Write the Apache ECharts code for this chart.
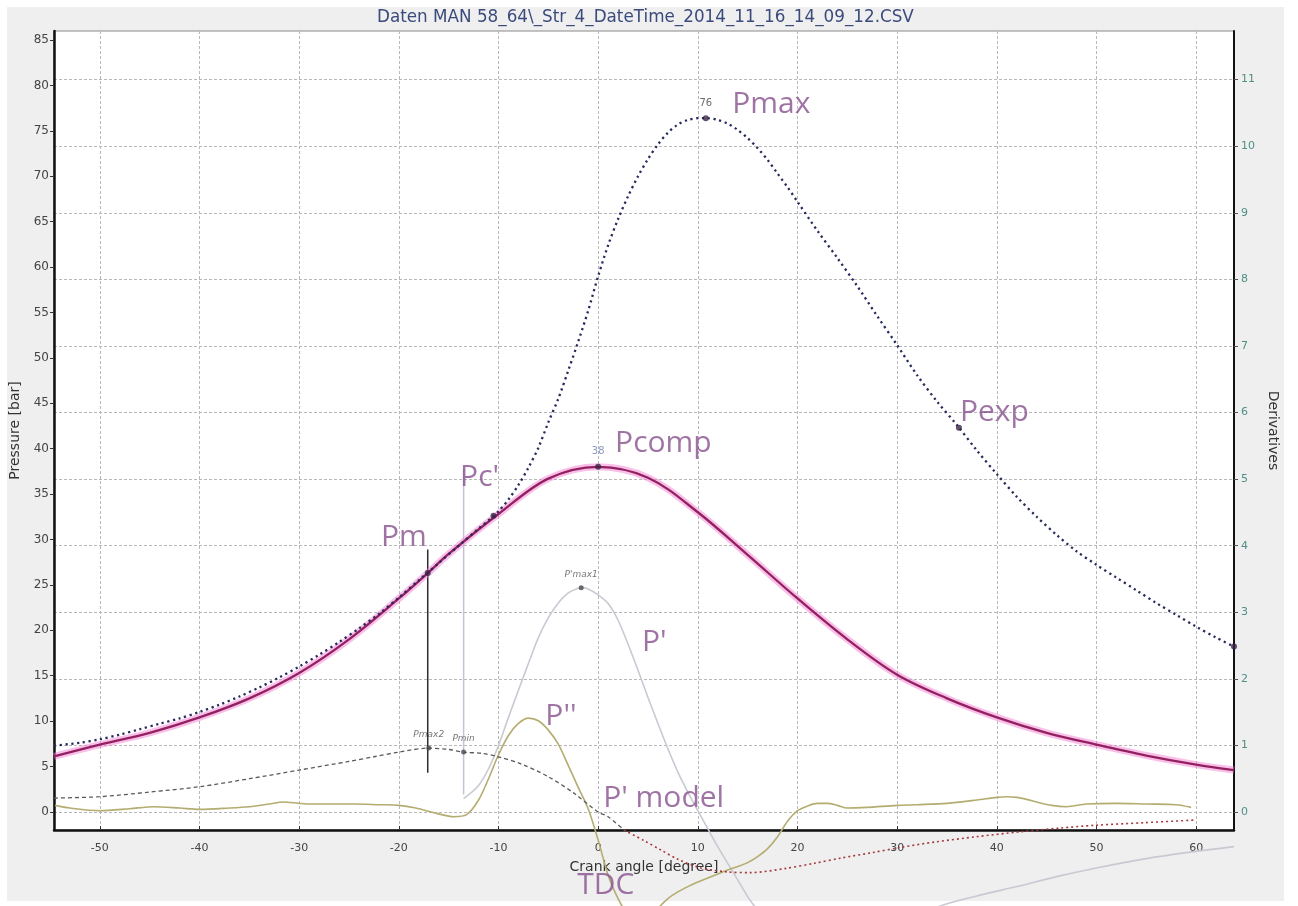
<!DOCTYPE html>
<html>
<head>
<meta charset="utf-8">
<script src="https://cdn.jsdelivr.net/npm/echarts@6/dist/echarts.min.js"></script>
<style>
  html, body { margin: 0; padding: 0; background: #ffffff; }
  #chart { width: 1298px; height: 906px; }
</style>
</head>
<body>
<div id="chart"></div>
<script>
// ---- crank angle [degree] / pressure [bar] ----
const firedPressure = [
  [-54.6,7.3],[-52,7.6],[-50,8.0],[-48,8.5],[-46,9.1],[-44,9.7],[-42,10.3],[-40,11.0],[-38,11.8],[-36,12.7],
  [-34,13.7],[-32,14.8],[-30,16.0],[-28,17.3],[-26,18.7],[-24,20.2],[-22,21.8],[-20,23.6],[-18,25.5],[-16,27.4],
  [-14,29.3],[-12,31.2],[-11,32.1],[-10,33.1],[-9,34.4],[-8,36.0],[-7,37.9],[-6,40.1],[-5,42.9],[-4,45.5],
  [-3,48.6],[-2,51.8],[-1,55.2],[0,59.0],[1,62.4],[2,65.3],[3,67.8],[4,70.0],[5,71.9],[6,73.5],
  [7,74.8],[8,75.7],[9,76.2],[10,76.4],[11,76.4],[12,76.2],[13,75.8],[14,75.1],[15,74.2],[16,73.1],
  [17,71.8],[18,70.3],[19,68.8],[20,67.2],[22,64.0],[24,61.0],[26,57.9],[28,54.6],[30,51.4],[32,48.1],
  [34,45.2],[36,42.6],[38,39.8],[40,37.2],[42,34.7],[44,32.5],[46,30.5],[48,28.7],[50,27.2],[52,25.8],
  [54,24.4],[56,23.0],[58,21.7],[60,20.4],[62,19.2],[63.8,18.2]
];
const compressionPressure = [
  [-54.6,6.1],[-50,7.4],[-45,8.7],[-40,10.4],[-35,12.5],[-30,15.3],[-25,19.0],[-20,23.5],[-17.1,26.3],[-15,28.4],
  [-10,32.8],[-5,36.7],[0,38.0],[5,36.8],[10,33.0],[15,28.3],[20,23.5],[25,19.0],[30,15.1],[35,12.5],
  [40,10.4],[45,8.7],[50,7.4],[55,6.2],[60,5.2],[63.8,4.6]
];

// ---- derivatives ----
const firstDerivative = [
  [-13.5,0.2],[-12,0.4],[-11,0.65],[-10,1.0],[-9,1.42],[-8,1.83],[-7,2.23],[-6,2.62],[-5,2.92],[-4,3.14],
  [-3,3.29],[-2,3.36],[-1.7,3.37],[-1,3.35],[0,3.26],[1,3.13],[2,2.88],[3,2.52],[4,2.13],[5,1.72],
  [6,1.33],[7,0.95],[8,0.6],[9,0.3],[10,0.02],[11,-0.25],[12,-0.52],[13,-0.77],[14,-1.02],[15,-1.27],
  [16,-1.47],[18,-1.76],[20,-1.94],[23,-2.04],[26,-2.0],[30,-1.78],[34,-1.43],[38,-1.26],[42,-1.12],[46,-0.97],
  [50,-0.84],[55,-0.7],[59,-0.61],[63.8,-0.52]
];
const secondDerivative = [
  [-54.5,0.1],[-53,0.06],[-50,0.02],[-47,0.05],[-44.6,0.08],[-42,0.06],[-40,0.04],[-37,0.06],[-35,0.08],[-33,0.12],
  [-31.6,0.15],[-30,0.13],[-28.7,0.12],[-26,0.12],[-24.5,0.12],[-22,0.11],[-20,0.1],[-18.3,0.06],[-16.2,-0.02],[-14.5,-0.07],
  [-13.2,-0.04],[-12,0.18],[-11,0.5],[-10,0.86],[-9,1.15],[-8,1.33],[-7,1.41],[-6,1.37],[-5,1.23],[-4,1.02],
  [-3,0.7],[-2,0.37],[-1,0.05],[0,-0.42],[1,-0.95],[2,-1.3],[3,-1.55],[4,-1.7],[5,-1.65],[6,-1.45],
  [7,-1.3],[8,-1.2],[9,-1.12],[10,-1.05],[11,-0.99],[12,-0.93],[13,-0.87],[14,-0.82],[15,-0.76],[16,-0.67],
  [17,-0.55],[18,-0.37],[19,-0.14],[20,0.02],[21,0.09],[22,0.13],[23,0.13],[24,0.1],[25,0.06],[27,0.07],
  [30,0.1],[32,0.11],[35,0.13],[38,0.18],[40,0.22],[41,0.23],[42,0.22],[43,0.19],[44,0.15],[45.5,0.1],
  [47,0.08],[49,0.12],[52,0.13],[55,0.12],[58,0.11],[59.5,0.07]
];
const modelDerivative = [
  [-54.6,0.21],[-50,0.23],[-45,0.3],[-40,0.38],[-35,0.5],[-30,0.63],[-25,0.76],[-22.5,0.83],[-20,0.9],[-17,0.96],
  [-15,0.94],[-13.5,0.9],[-11.6,0.88],[-10,0.83],[-7.7,0.72],[-5,0.53],[-2.4,0.28],[0,0.0],[1,-0.07],[2.6,-0.27],
  [4.6,-0.43],[6.3,-0.57],[8,-0.71],[10.3,-0.84],[13,-0.9],[15.3,-0.91],[18.7,-0.85],[21.7,-0.77],[24.4,-0.69],[27.5,-0.61],
  [30.4,-0.53],[33.8,-0.45],[38,-0.37],[42.2,-0.3],[46.4,-0.24],[49.8,-0.2],[54.8,-0.16],[60,-0.12]
];
const modelSplitAngle = 2.6;

// ---- evaluated points: [name, crank angle, value] ----
const pressurePoints = [
  ['Pmax', 10.8, 76.4], ['Pcomp', 0, 38.0], ['Pexp', 36.2, 42.3],
  ["Pc'", -10.5, 32.6], ['Pm', -17.1, 26.3], ['end', 63.8, 18.2]
];
const valueLabelled = ['Pmax', 'Pcomp'];
const derivativePoints = [
  ["P'max1", -1.7, 3.37], ['Pmax2', -17, 0.96], ['Pmin', -13.5, 0.9]
];

// cursor lines: [crank angle, lower bar, upper bar]
const cursorPm = [-17.1, 4.3, 28.9];
const cursorPmin = [-13.5, 1.9, 37.7];

// curve names: [text, angle at text start, axis value at text middle]
const pressureNotes = [
  ['Pmax', 13.45, 77.9], ['Pcomp', 1.7, 40.6], ['Pexp', 36.3, 44.0],
  ["Pc'", -13.85, 36.8], ['Pm', -21.8, 30.2]
];
const derivativeNotes = [
  ["P'", 4.4, 2.54], ["P''", -5.3, 1.43], ["P' model", 0.5, 0.21], ['TDC', -2.1, -1.11]
];

// ---- axis ticks ----
const angleTicks = [-50, -40, -30, -20, -10, 0, 10, 20, 30, 40, 50, 60];
const pressureTicks = [0, 5, 10, 15, 20, 25, 30, 35, 40, 45, 50, 55, 60, 65, 70, 75, 80, 85];
const derivativeTicks = [0, 1, 2, 3, 4, 5, 6, 7, 8, 9, 10, 11];

const chart = echarts.init(document.getElementById('chart'), null, { renderer: 'canvas' });

const noteColor = '#87518f';
const gridLine = { show: true, lineStyle: { color: '#b8b8b8', width: 1, type: [3, 2] } };
const axisFont = 'DejaVu Sans';

function noteSeries(list, axisIndex) {
  return {
    type: 'scatter', yAxisIndex: axisIndex, clip: false, silent: true, z: 20,
    symbolSize: 0,
    data: list.map(n => ({ name: n[0], value: [n[1], n[2]] })),
    label: {
      show: true, position: [0, 0], align: 'left', verticalAlign: 'middle',
      formatter: p => p.name,
      fontFamily: 'Open Sans', fontSize: 30, color: noteColor
    }
  };
}

const option = {
  animation: false,
  backgroundColor: '#ffffff',
  graphic: [{
    type: 'rect', z: -100, silent: true,
    shape: { x: 7, y: 7, width: 1277, height: 894 },
    style: { fill: '#efefef' }
  }],
  title: {
    text: 'Daten MAN 58_64\\_Str_4_DateTime_2014_11_16_14_09_12.CSV',
    left: 372, top: 4,
    textStyle: { fontFamily: axisFont, fontSize: 16.8, fontWeight: 'normal', color: '#3b4a7c' }
  },
  grid: {
    left: 54, right: 64, top: 31, bottom: 76,
    show: true, backgroundColor: '#ffffff', borderColor: '#8a8a8a', borderWidth: 1
  },
  xAxis: {
    type: 'value', min: -54.6, max: 63.8,
    name: 'Crank angle [degree]', nameLocation: 'middle', nameGap: 30,
    nameTextStyle: { fontFamily: axisFont, fontSize: 14, color: '#333' },
    axisLine: { show: true, onZero: false, lineStyle: { color: '#111', width: 2.5 } },
    axisTick: { show: true, inside: true, length: 4, customValues: angleTicks, lineStyle: { color: '#333' } },
    axisLabel: { customValues: angleTicks, fontFamily: axisFont, fontSize: 11, color: '#444', margin: 13 },
    splitLine: gridLine
  },
  yAxis: [{
    type: 'value', position: 'left', min: -2, max: 86,
    name: 'Pressure [bar]', nameLocation: 'middle', nameGap: 30,
    nameTextStyle: { fontFamily: axisFont, fontSize: 14, color: '#333' },
    axisLine: { show: true, onZero: false, lineStyle: { color: '#111', width: 2.5 } },
    axisTick: { show: true, length: 4, customValues: pressureTicks, lineStyle: { color: '#333' } },
    axisLabel: { customValues: pressureTicks, fontFamily: axisFont, fontSize: 12, color: '#444', margin: 5 },
    splitLine: { show: false }
  }, {
    type: 'value', position: 'right', min: -0.27, max: 11.73,
    name: 'Derivatives', nameLocation: 'middle', nameGap: 30, nameRotate: -90,
    nameTextStyle: { fontFamily: axisFont, fontSize: 14, color: '#333' },
    axisLine: { show: true, onZero: false, lineStyle: { color: '#111', width: 2 } },
    axisTick: { show: true, length: 4, customValues: derivativeTicks, lineStyle: { color: '#555' } },
    axisLabel: { customValues: derivativeTicks, fontFamily: axisFont, fontSize: 11, color: '#4f8f86', margin: 7 },
    splitLine: gridLine
  }],
  series: [
    {
      name: "P'", type: 'line', yAxisIndex: 1, data: firstDerivative, clip: false,
      smooth: 0.3, showSymbol: false, silent: true, z: 3,
      lineStyle: { color: '#c9c9d3', width: 1.6 }
    },
    {
      name: "P''", type: 'line', yAxisIndex: 1, data: secondDerivative, clip: false,
      smooth: 0.3, showSymbol: false, silent: true, z: 4,
      lineStyle: { color: '#b4ac70', width: 1.6 }
    },
    {
      name: "P' model", type: 'line', yAxisIndex: 1, clip: false,
      data: modelDerivative.filter(d => d[0] <= modelSplitAngle),
      smooth: 0.3, showSymbol: false, silent: true, z: 5,
      lineStyle: { color: '#5a5a5a', width: 1.3, type: [4, 3] }
    },
    {
      name: "P' model ext", type: 'line', yAxisIndex: 1, clip: false,
      data: modelDerivative.filter(d => d[0] >= modelSplitAngle),
      smooth: 0.3, showSymbol: false, silent: true, z: 5,
      lineStyle: { color: '#a53a3e', width: 1.6, type: [2, 3] }
    },
    {
      name: 'cursor Pm', type: 'line', yAxisIndex: 0, showSymbol: false, silent: true, z: 6,
      data: [[cursorPm[0], cursorPm[1]], [cursorPm[0], cursorPm[2]]],
      lineStyle: { color: '#2d2d2d', width: 1.5 }
    },
    {
      name: 'cursor Pmin', type: 'line', yAxisIndex: 0, showSymbol: false, silent: true, z: 6,
      data: [[cursorPmin[0], cursorPmin[1]], [cursorPmin[0], cursorPmin[2]]],
      lineStyle: { color: '#c6c0de', width: 1.5 }
    },
    {
      name: 'Pcomp halo', type: 'line', yAxisIndex: 0, data: compressionPressure,
      smooth: 0.35, showSymbol: false, silent: true, z: 7,
      lineStyle: { color: 'rgba(244,128,214,0.5)', width: 7 }
    },
    {
      name: 'Pcomp', type: 'line', yAxisIndex: 0, data: compressionPressure,
      smooth: 0.35, showSymbol: false, silent: true, z: 8,
      lineStyle: { color: '#93215f', width: 2.3 }
    },
    {
      name: 'Pfired', type: 'line', yAxisIndex: 0, data: firedPressure,
      smooth: 0.3, showSymbol: false, silent: true, z: 9,
      lineStyle: { color: '#262a5c', width: 2.3, type: [2.2, 3.6] }
    },
    {
      name: 'pressure points', type: 'scatter', yAxisIndex: 0, clip: false, silent: true, z: 12,
      symbol: 'circle', symbolSize: 6, itemStyle: { color: '#3a2446' },
      data: pressurePoints.map(p => ({
        name: p[0], value: [p[1], p[2]],
        label: {
          show: valueLabelled.includes(p[0]), position: 'top', distance: 7,
          formatter: String(Math.round(p[2])), fontFamily: axisFont, fontSize: 10,
          color: p[0] === 'Pcomp' ? '#6f80b4' : '#444'
        }
      }))
    },
    {
      name: 'derivative points', type: 'scatter', yAxisIndex: 1, clip: false, silent: true, z: 12,
      symbol: 'circle', symbolSize: 5, itemStyle: { color: '#4a4a4a' },
      data: derivativePoints.map(p => ({ name: p[0], value: [p[1], p[2]] })),
      label: {
        show: true, position: 'top', distance: 6, formatter: p => p.name,
        fontFamily: axisFont, fontSize: 9, fontStyle: 'italic', color: '#555'
      }
    },
    noteSeries(pressureNotes, 0),
    noteSeries(derivativeNotes, 1)
  ]
};

chart.setOption(option);
</script>
</body>
</html>
